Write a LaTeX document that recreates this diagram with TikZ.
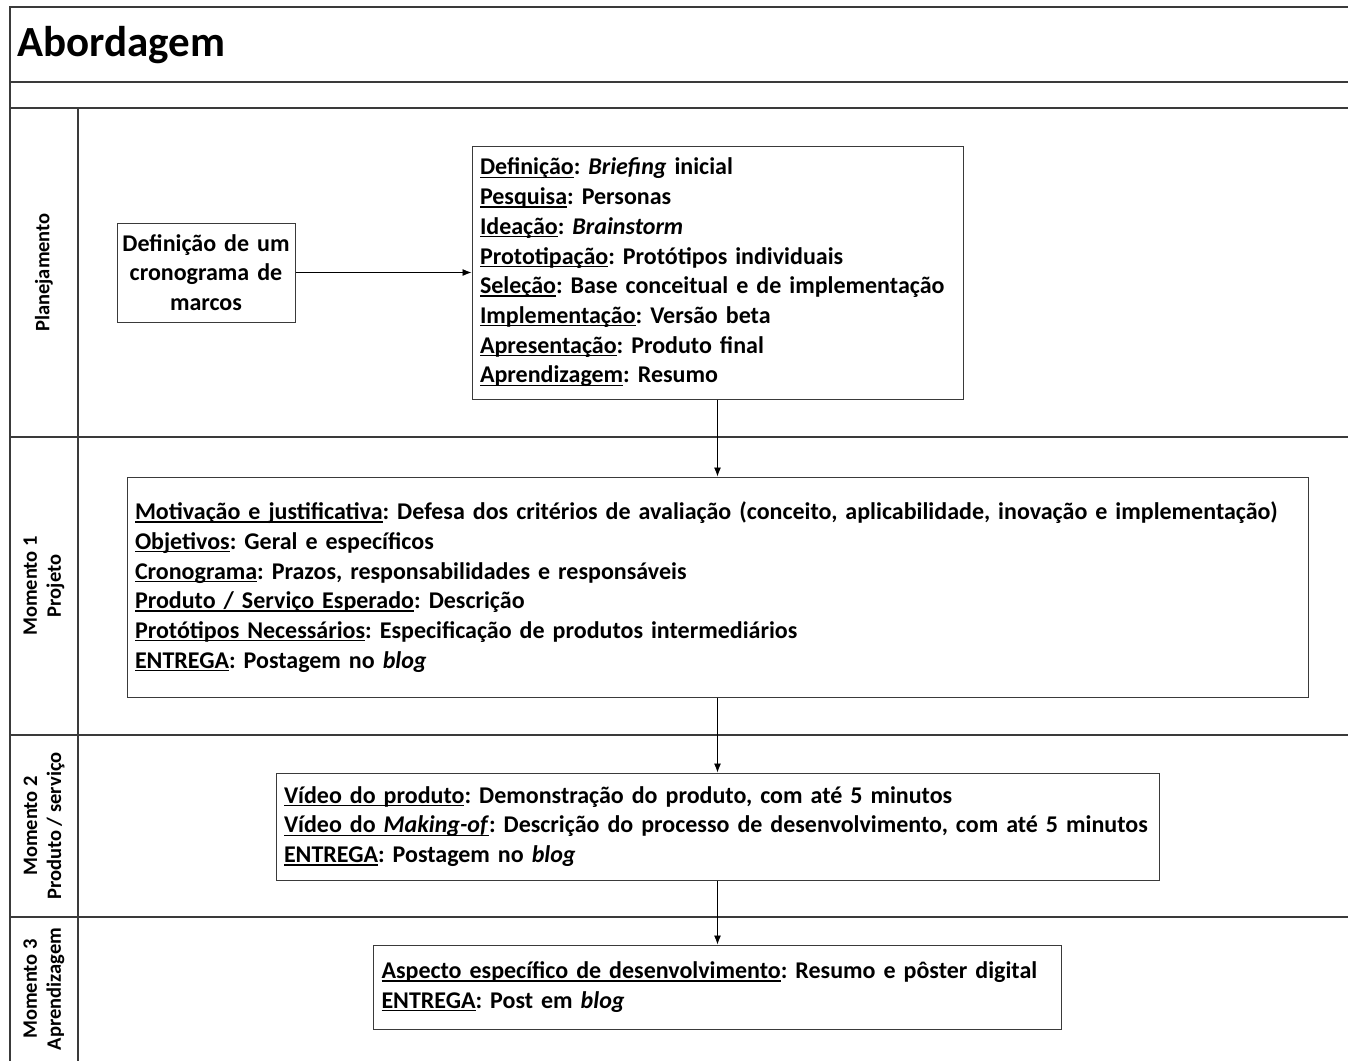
\documentclass[tikz,border=0pt]{standalone}
\usepackage{fontspec}
\setmainfont{Carlito}
\usepackage{tikz}
\usetikzlibrary{arrows.meta}
\definecolor{grafite}{HTML}{3A3A3A}
\frenchspacing
\newcommand{\sublinha}[1]{\leavevmode\setbox0\hbox{#1}\rlap{\rule[-3pt]{\wd0}{1.3pt}}#1}

\begin{document}
\begin{tikzpicture}[x=1pt,y=-1pt,
  font=\fontsize{24}{29.7}\selectfont\bfseries,
  caixa/.style={draw=grafite,line width=1pt,inner xsep=8pt,inner ysep=0pt,align=left},
  faixa/.style={rotate=90,font=\fontsize{20.5}{24}\selectfont\bfseries,align=center},
  flecha/.style={-{Latex[length=9pt,width=7pt]},line width=0.9pt},
  grade/.style={line width=1.4pt,grafite}]
\useasboundingbox (0,0) rectangle (1348,1061);
% grade das faixas
\draw[grade] (1348,7) -- (10,7) -- (10,1061);
\foreach \yy in {82,108,437,735,917}
  \draw[grade] (10,\yy) -- (1348,\yy);
\draw[grade] (78,108) -- (78,1061);
\node[anchor=west,inner sep=0pt,font=\fontsize{43}{50}\selectfont\bfseries] (titulo) at (17,45) {Abordagem};
% rotulos
\node[faixa] (planej) at (44,272.5) {Planejamento};
\node[faixa] (mom1) at (44,586) {Momento 1\\Projeto};
\node[faixa] (mom2) at (44,826) {Momento 2\\Produto / serviço};
\node[faixa] (mom3) at (44,989) {Momento 3\\Aprendizagem};
% caixas
\node[caixa,align=center,inner xsep=0pt,text width=178pt,minimum height=99pt] (cronog) at (206,272.5) {Definição de um\\cronograma de\\marcos};
\node[caixa,text width=475pt,minimum height=253pt] (etapas) at (717.5,272.5) {\sublinha{Definição}: \textit{Briefing} inicial\\
\sublinha{Pesquisa}: Personas\\
\sublinha{Ideação}: \textit{Brainstorm}\\
\sublinha{Prototipação}: Protótipos individuais\\
\sublinha{Seleção}: Base conceitual e de implementação\\
\sublinha{Implementação}: Versão beta\\
\sublinha{Apresentação}: Produto final\\
\sublinha{Aprendizagem}: Resumo};
\node[caixa,text width=1165pt,minimum height=220pt] (projeto) at (717.5,587) {\sublinha{Motivação e justificativa}: Defesa dos critérios de avaliação (conceito, aplicabilidade, inovação e implementação)\\
\sublinha{Objetivos}: Geral e específicos\\
\sublinha{Cronograma}: Prazos, responsabilidades e responsáveis\\
\sublinha{Produto / Serviço Esperado}: Descrição\\
\sublinha{Protótipos Necessários}: Especificação de produtos intermediários\\
\sublinha{ENTREGA}: Postagem no \textit{blog}};
\node[caixa,text width=867pt,minimum height=107pt] (produto) at (717.5,826.5) {\sublinha{Vídeo do produto}: Demonstração do produto, com até 5 minutos\\
\sublinha{Vídeo do \textit{Making-of}}: Descrição do processo de desenvolvimento, com até 5 minutos\\
\sublinha{ENTREGA}: Postagem no \textit{blog}};
\node[caixa,text width=672pt,minimum height=84pt] (aprend) at (717.5,987) {\sublinha{Aspecto específico de desenvolvimento}: Resumo e pôster digital\\
\sublinha{ENTREGA}: Post em \textit{blog}};
% conexoes
\draw[flecha] (cronog) -- (etapas);
\draw[flecha] (etapas) -- (projeto);
\draw[flecha] (projeto) -- (produto);
\draw[flecha] (produto) -- (aprend);
\end{tikzpicture}
\end{document}
